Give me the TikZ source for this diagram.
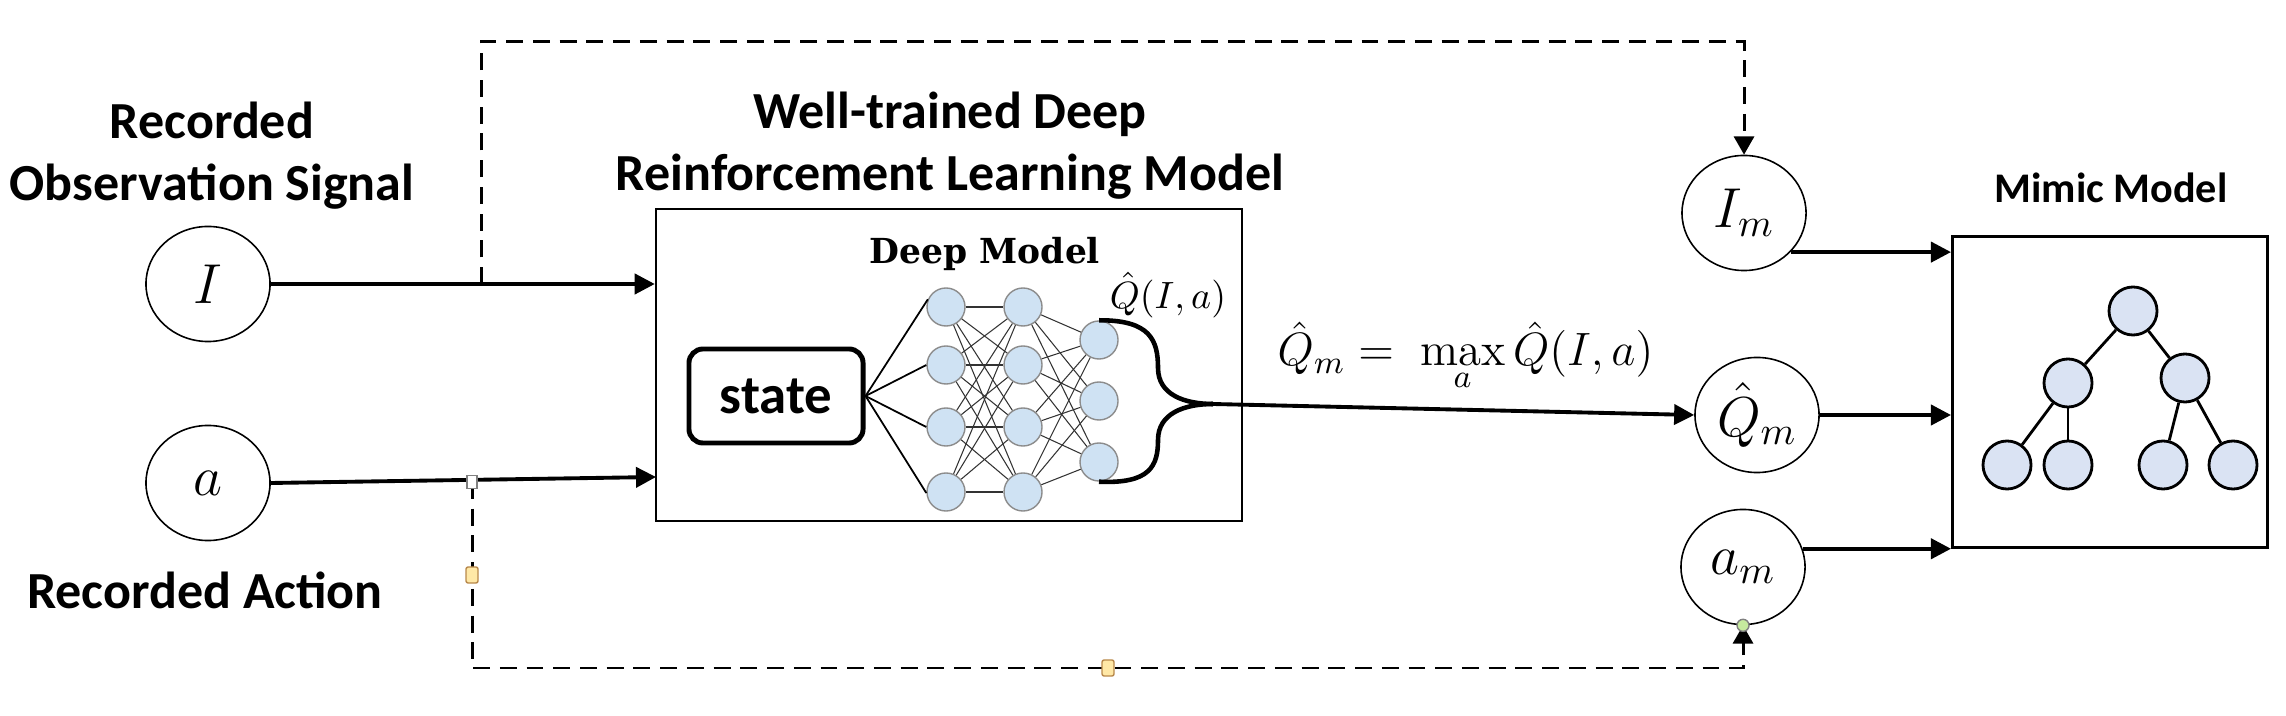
\RequirePackage{fix-cm}
\documentclass[tikz,border=0pt]{standalone}
\usepackage{fontspec}
\newfontfamily\calib{Carlito}
\newfontfamily\dvserif{DejaVu Serif}
\usetikzlibrary{arrows.meta,shapes.geometric,calc}
\definecolor{neuronblue}{HTML}{CFE2F3}
\definecolor{treeblue}{HTML}{DAE3F3}
\definecolor{handleyellow}{HTML}{FFE8A6}
\definecolor{handleedge}{HTML}{B8884A}
\definecolor{handlegreen}{HTML}{C6EA9E}
\begin{document}
\begin{tikzpicture}[x=0.01cm,y=-0.01cm,
  arr/.style={-{Triangle[length=5.7pt,width=5.7pt]}, line width=1.1pt},
  dsh/.style={dash pattern=on 4.8pt off 2.8pt, line width=0.85pt, -{Triangle[length=5.2pt,width=5.7pt]}},
  var/.style={ellipse, draw, line width=0.45pt, inner sep=0pt, minimum width=1.24cm, minimum height=1.15cm, font=\fontsize{16}{18}\selectfont},
  neur/.style={circle, draw=black!45, fill=neuronblue, line width=0.4pt, minimum size=0.38cm, inner sep=0pt},
  conn/.style={line width=0.3pt, black!80},
  tnode/.style={circle, draw, fill=treeblue, line width=0.8pt, minimum size=0.48cm, inner sep=0pt},
  tedge/.style={line width=0.8pt},
  ttl/.style={font=\calib\bfseries\fontsize{14.8}{17.6}\selectfont, align=center, inner sep=0pt},
  hy/.style={draw=handleedge, fill=handleyellow, line width=0.4pt, minimum width=0.12cm, minimum height=0.16cm, inner sep=0pt, rounded corners=0.6pt},
]
\useasboundingbox (0,0) rectangle (2286,716);

% titles
\node[ttl] (t1) at (212,156) {Recorded\\Observation Signal};
\node[ttl] (t2) at (205,590) {Recorded Action};
\node[ttl] (t3) at (950,146) {Well-trained Deep\\Reinforcement Learning Model};
\node[font=\calib\bfseries\fontsize{12}{14}\selectfont, inner sep=0pt] (t4) at (2111,188) {Mimic Model};

% inputs
\node[var] (I) at (208,284) {$I$};
\node[var] (a) at (208,483) {$a$};

% deep model box
\node[draw, line width=0.6pt, minimum width=5.86cm, minimum height=3.12cm, inner sep=0pt] (dbox) at (949,365) {};
\node[draw, rounded corners=4pt, line width=1.4pt, minimum width=1.74cm, minimum height=0.94cm, inner sep=0pt,
      font=\calib\bfseries\fontsize{15.6}{18}\selectfont] (st) at (776,396) {state};
\node[font=\dvserif\bfseries\fontsize{9.8}{12}\selectfont, inner sep=0pt] (dm) at (985,254) {Deep Model};

% neurons
\foreach \y [count=\i] in {307,365,427,492} {
  \node[neur] (p\i) at (946,\y) {};
  \node[neur] (q\i) at (1023,\y) {};
}
\foreach \y [count=\i] in {340,401,462} {
  \node[neur] (r\i) at (1099,\y) {};
}
\foreach \i in {1,...,4} {
  \foreach \j in {1,...,4} { \draw[conn] (p\i) -- (q\j); }
  \foreach \j in {1,...,3} { \draw[conn] (q\i) -- (r\j); }
}
\foreach \i/\ang in {1/157,2/180,3/180,4/183} {
  \draw[line width=0.5pt] (st.east) -- (p\i.\ang);
}

% output brace
\coordinate (tip) at (1213,404);
\draw[line width=1.3pt] (r1.north) .. controls (1150,320) and (1158,340) .. (1158,368)
      .. controls (1158,395) and (1185,404) .. (tip);
\draw[line width=1.3pt] (r3.south) .. controls (1150,484) and (1158,466) .. (1158,440)
      .. controls (1158,413) and (1185,404) .. (tip);
\node[font=\fontsize{10.8}{12}\selectfont, inner sep=0pt] (ql) at (1168,295) {$\hat{Q}(I,a)$};

% mimic inputs
\node[var] (Im) at (1744,213) {$I_m$};
\node[var] (Qm) at (1757,415) {$\hat{Q}_m$};
\node[var] (am) at (1743,567) {$a_m$};

\node[anchor=base west, font=\fontsize{13.3}{15}\selectfont, inner sep=0pt] (fm) at (1277,366)
  {$\hat{Q}_m =\; \max\limits_a \hat{Q}(I,a)$};

% mimic model
\node[draw, line width=0.8pt, minimum width=3.15cm, minimum height=3.11cm, inner sep=0pt] (mm) at (2110,392) {};
\node[tnode] (n0) at (2133,311) {};
\node[tnode] (nl) at (2068,383) {};
\node[tnode] (nr) at (2185,378) {};
\node[tnode] (nll) at (2007,465) {};
\node[tnode] (nlr) at (2068,465) {};
\node[tnode] (nrl) at (2163,465) {};
\node[tnode] (nrr) at (2233,465) {};
\draw[tedge] (n0) -- (nl);
\draw[tedge] (n0) -- (nr);
\draw[tedge] (nl) -- (nll);
\draw[tedge] (nl) -- (nlr);
\draw[tedge] (nr) -- (nrl);
\draw[tedge] (nr) -- (nrr);

% solid arrows
\coordinate (ain) at (656,477);
\draw[arr] (I.east) -- (I.east -| dbox.west);
\draw[arr] (a.east) -- (ain);
\draw[arr] (tip) -- (Qm.west);
\draw[arr] (Im.-40) -- (Im.-40 -| mm.west);
\draw[arr] (Qm.east) -- (Qm.east -| mm.west);
\draw[arr] (am.17) -- (am.17 -| mm.west);

% dashed connectors
\coordinate (jI) at (481,284);
\coordinate (tl) at (481,42);
\draw[dsh] (jI) -- (tl) -| (Im.north);
\coordinate (jA) at (472,482);
\coordinate (bl) at (472,668);
\draw[dsh] (jA) -- (bl) -| (am.south);

% connector handles
\node[draw=black!50, fill=white, line width=0.4pt, minimum width=0.1cm, minimum height=0.13cm, inner sep=0pt] (h1) at (jA) {};
\node[hy] (h2) at (472,575) {};
\node[hy] (h3) at (1108,668) {};
\node[circle, draw=black!50, fill=handlegreen, line width=0.4pt, minimum size=0.12cm, inner sep=0pt] (h4) at (am.south) {};
\end{tikzpicture}
\end{document}
